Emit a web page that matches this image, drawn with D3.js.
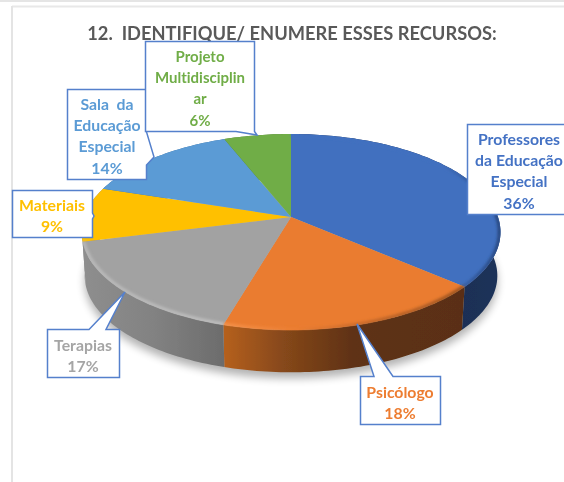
<!DOCTYPE html>
<meta charset="utf-8">
<script src="https://d3js.org/d3.v7.min.js"></script>
<style>
  html, body { margin: 0; padding: 0; background: #fff; }
  svg { display: block; filter: blur(0.35px); }
  text { font-family: Lato, "Open Sans", sans-serif; font-weight: 700; text-anchor: middle; font-variant-ligatures: none; }
</style>
<div id="chart"></div>
<script>
var categories = ["Professores da Educação Especial", "Psicólogo", "Terapias", "Materiais", "Sala da Educação Especial", "Projeto Multidisciplinar"];
var values = [36.4, 18.1, 16.5, 9, 14, 6];
var topColors = ["#4170bf", "#ea7c30", "#a2a2a2", "#ffc000", "#5b9bd5", "#70ad47"];
var textColors = ["#4472c4", "#ed7d31", "#a5a5a5", "#ffc000", "#5b9bd5", "#70ad47"];
var titleText = "12.  IDENTIFIQUE/ ENUMERE ESSES RECURSOS:";

// how each label wraps, same order as categories
var labelLines = [
  ["Professores", "da Educação", "Especial", "36%"],
  ["Psicólogo", "18%"],
  ["Terapias", "17%"],
  ["Materiais", "9%"],
  ["Sala  da", "Educação", "Especial", "14%"],
  ["Projeto", "Multidisciplin", "ar", "6%"]
];

var width = 564, height = 482;

// callout boxes, in drawing order. tail = the little pointer of the box
var callouts = [
  {i: 0, x: 467.5, y: 124.5, w: 100, h: 90, cx: 519, first: 140, tail: null},
  {i: 1, x: 360.5, y: 376.5, w: 80, h: 48, cx: 400, first: 393, tail: [[374, 376.5], [357, 324], [393, 376.5]]},
  {i: 2, x: 47.5, y: 329.5, w: 72, h: 48, cx: 83, first: 346, tail: [[89, 329.5], [125, 292], [106, 329.5]]},
  {i: 3, x: 12.5, y: 190.5, w: 80, h: 47, cx: 52, first: 206, tail: [[92.5, 213], [94, 216], [92.5, 219]]},
  {i: 4, x: 67.5, y: 89.5, w: 79, h: 90, cx: 107, first: 105, tail: [[146.5, 132], [154, 157], [146.5, 165]]},
  {i: 5, x: 145.5, y: 41.5, w: 109, h: 90, cx: 200, first: 57, tail: [[236, 131.5], [257, 135], [254.5, 131.5]]}
];

var svg = d3.select("#chart").append("svg")
  .attr("width", width)
  .attr("height", height);

// frame lines of the screenshot
svg.append("line").attr("x1", 0).attr("x2", width).attr("y1", 1).attr("y2", 1)
  .attr("stroke", "#dcdcdc").attr("stroke-width", 1.5);
svg.append("line").attr("x1", 12).attr("x2", width).attr("y1", 6.5).attr("y2", 6.5)
  .attr("stroke", "#e8e8e8").attr("stroke-width", 2);
svg.append("line").attr("x1", 12).attr("x2", 12).attr("y1", 6).attr("y2", height)
  .attr("stroke", "#e4e4e4").attr("stroke-width", 2);

var defs = svg.append("defs");
defs.append("filter").attr("id", "soft").append("feGaussianBlur").attr("stdDeviation", 0.7);
defs.append("filter").attr("id", "rimBlur").append("feGaussianBlur").attr("stdDeviation", 1.4);
var sf = defs.append("filter").attr("id", "shadow")
  .attr("x", "-10%").attr("y", "-10%").attr("width", "120%").attr("height", "120%");
sf.append("feGaussianBlur").attr("stdDeviation", 4);

function xGradient(id, x1, x2, stops) {
  var g = defs.append("linearGradient").attr("id", id)
    .attr("gradientUnits", "userSpaceOnUse")
    .attr("x1", x1).attr("x2", x2).attr("y1", 0).attr("y2", 0);
  stops.forEach(function (s) {
    g.append("stop").attr("offset", s[0]).attr("stop-color", s[1]);
  });
}
xGradient("wall0", 440, 500, [[0, "#1a2e54"], [1, "#1c3159"]]);
xGradient("wall1", 224, 462, [[0, "#b5601f"], [0.25, "#86481a"], [0.55, "#5e3113"], [1, "#5a2f12"]]);
xGradient("wall2", 83, 224, [[0, "#8e8e8e"], [0.5, "#828282"], [1, "#6c6c6c"]]);
xGradient("wall3", 80, 110, [[0, "#8e8e8e"], [1, "#8e8e8e"]]);
xGradient("wall4", 100, 230, [[0, "#3c6e9c"], [1, "#3c6e9c"]]);
xGradient("wall5", 225, 291, [[0, "#4f7a32"], [1, "#4f7a32"]]);

// bevel along the rim, only where the reference shows one
xGradient("rim0", 440, 498, [[0, "#4170bf"], [1, "#223f73"]]);
xGradient("rim1", 224, 462, [[0, "#f7954e"], [0.3, "#ec7e33"], [0.55, "#c5682a"], [1, "#8a4a1c"]]);
xGradient("rim2", 83, 224, [[0, "#bdbdbd"], [1, "#c4c4c4"]]);

// perspective of the pie disc: angle (d3.pie, 0 at the top, clockwise) -> screen
var center = [291, 217], radX = 207, radY = 95.7, persp = 0.153;
var wallDepth = 44, bottomScale = 0.985;

function project(a, scale, dy) {
  var u = Math.sin(a), v = -Math.cos(a), w = 1 - persp * v;
  return [center[0] + scale * radX * u / w, center[1] + dy + scale * radY * v / w];
}

function rimPoints(a0, a1, scale, dy) {
  var n = Math.max(2, Math.ceil((a1 - a0) / 0.02));
  return d3.range(n + 1).map(function (k) {
    return project(a0 + (a1 - a0) * k / n, scale, dy);
  });
}

var line = d3.line();
var pie = d3.pie().sort(null).value(function (d) { return d; });
var slices = pie(values);

// soft shadow under the disc
svg.append("path")
  .attr("d", line(rimPoints(0, 2 * Math.PI, bottomScale, wallDepth + 6)) + "Z")
  .attr("fill", "#000")
  .attr("opacity", 0.3)
  .attr("filter", "url(#shadow)");

// side walls
svg.append("g").attr("filter", "url(#soft)")
  .selectAll("path").data(slices).enter().append("path")
  .attr("d", function (d) {
    var top = rimPoints(d.startAngle, d.endAngle, 1, 0);
    var bottom = rimPoints(d.startAngle, d.endAngle, bottomScale, wallDepth).reverse();
    return line(top.concat(bottom)) + "Z";
  })
  .attr("fill", function (d) { return "url(#wall" + d.index + ")"; });

// top face
var clip = defs.append("clipPath").attr("id", "disc");
clip.append("path").attr("d", line(rimPoints(0, 2 * Math.PI, 1, 0.5)) + "Z");

svg.append("g").selectAll("path").data(slices).enter().append("path")
  .attr("d", function (d) {
    return line([center].concat(rimPoints(d.startAngle, d.endAngle, 1, 0))) + "Z";
  })
  .attr("fill", function (d) { return topColors[d.index]; });

// bevel along the front edge
svg.append("g").attr("clip-path", "url(#disc)")
  .selectAll("path").data(slices.slice(0, 3)).enter().append("path")
  .attr("d", function (d) { return line(rimPoints(d.startAngle, d.endAngle, 0.995, 0)); })
  .attr("fill", "none")
  .attr("stroke", function (d) { return "url(#rim" + d.index + ")"; })
  .attr("stroke-width", 3)
  .attr("filter", "url(#rimBlur)");

// chart title
svg.append("text")
  .attr("x", 292)
  .attr("y", 40)
  .attr("fill", "#595959")
  .style("font-size", "18.3px")
  .style("white-space", "pre")
  .text(titleText);

// callouts
var boxes = svg.selectAll("g.callout").data(callouts).enter().append("g").attr("class", "callout");

boxes.append("path")
  .attr("d", function (c) {
    var x0 = c.x, y0 = c.y, x1 = c.x + c.w, y1 = c.y + c.h;
    var pts = [[x0, y0], [x1, y0], [x1, y1], [x0, y1]];
    if (c.i === 1 || c.i === 2) pts = [[x0, y0]].concat(c.tail, [[x1, y0], [x1, y1], [x0, y1]]);
    if (c.i === 3 || c.i === 4) pts = [[x0, y0], [x1, y0]].concat(c.tail, [[x1, y1], [x0, y1]]);
    if (c.i === 5) pts = [[x0, y0], [x1, y0], [x1, y1]].concat(c.tail.slice().reverse(), [[x0, y1]]);
    return line(pts) + "Z";
  })
  .attr("fill", "#fff")
  .attr("stroke", "#5580cc")
  .attr("stroke-width", 1.5);

boxes.each(function (c) {
  d3.select(this).selectAll("text").data(labelLines[c.i]).enter().append("text")
    .attr("x", c.cx)
    .attr("y", function (d, k) { return c.first + k * 21.2 + 5; })
    .attr("fill", textColors[c.i])
    .style("font-size", labelLines[c.i][1] === "Multidisciplin" ? "15px" : "15.8px")
    .style("white-space", "pre")
    .text(function (d) { return d; });
});
</script>
